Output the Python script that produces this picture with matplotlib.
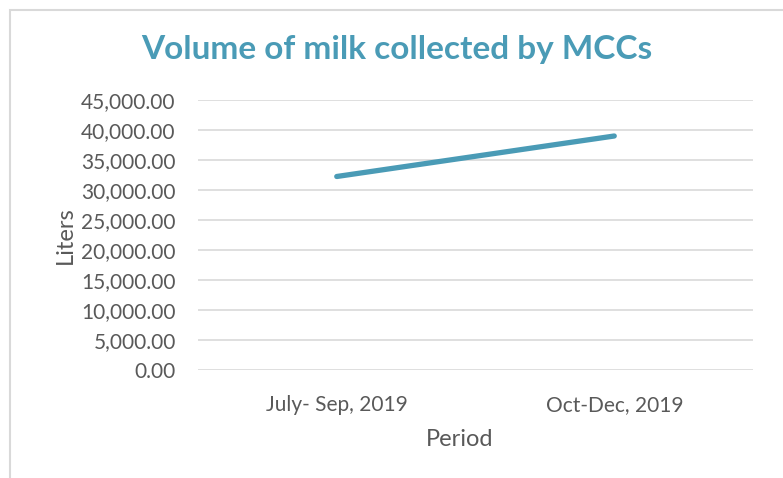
import matplotlib
matplotlib.use("Agg")
import matplotlib.pyplot as plt
from matplotlib.patches import Rectangle
from matplotlib.ticker import FuncFormatter, MultipleLocator

periods = ["July- Sep, 2019", "Oct-Dec, 2019"]
liters = [32250, 39000]

TEAL = "#4A9BB6"
GRAY = "#595959"
GRID = "#D9D9D9"

plt.rcParams["font.family"] = ["Lato", "DejaVu Sans"]

fig = plt.figure(figsize=(7.83, 4.78), dpi=100)
fig.patches.append(Rectangle((10 / 783, -0.5), 2.0, 1.5 - 10 / 478,
                             transform=fig.transFigure, fill=False,
                             edgecolor=GRID, lw=1.5))
ax = fig.add_axes([198 / 783, 1 - 370 / 478, 555 / 783, 270 / 478])

x = range(len(periods))
ax.plot(x, liters, color=TEAL, lw=3.8, solid_capstyle="round")

ax.set_xlim(-0.5, len(periods) - 0.5)
ax.set_ylim(0, 45000)
ax.yaxis.set_major_locator(MultipleLocator(5000))
ax.yaxis.set_major_formatter(FuncFormatter(lambda v, _: f"{v:,.2f}"))
ax.set_xticks(list(x))
ax.set_xticklabels(periods)

ax.grid(axis="y", color=GRID, lw=1.2)
ax.set_axisbelow(True)
for s in ax.spines.values():
    s.set_visible(False)
ax.tick_params(axis="both", length=0, labelsize=15, colors=GRAY)
ax.tick_params(axis="y", pad=16)
ax.tick_params(axis="x", pad=18)

ax.set_ylabel("Liters", fontsize=17, color=GRAY, labelpad=4)
ax.set_xlabel("Period", fontsize=17, color=GRAY, labelpad=10, x=0.472)
fig.text(397 / 783, 1 - 49 / 478, "Volume of milk collected by MCCs",
         ha="center", va="center", fontsize=24, fontweight="bold", color=TEAL)

fig.savefig("out.png", dpi=100)
